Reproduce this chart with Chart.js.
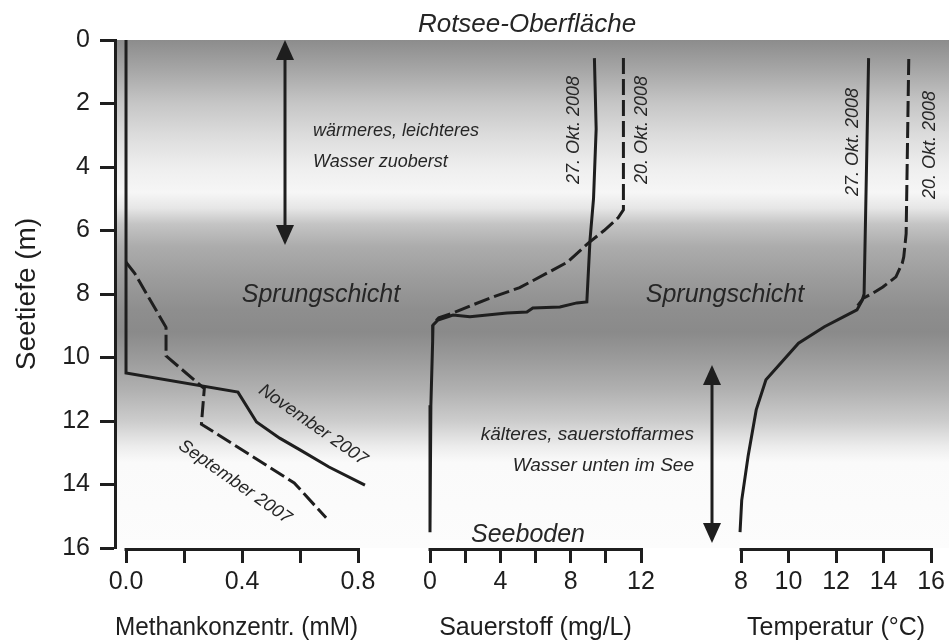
<!DOCTYPE html>
<html>
<head>
<meta charset="utf-8">
<script src="https://cdn.jsdelivr.net/npm/chart.js@4.4.1/dist/chart.umd.min.js"></script>
<style>
  body { margin: 0; background: #fff; }
  #wrap { position: relative; width: 949px; height: 643px; }
  #wrap canvas { position: absolute; left: 0; top: 0; }
</style>
</head>
<body>
<div id="wrap">
  <canvas id="methan" width="949" height="643"></canvas>
  <canvas id="sauerstoff" width="949" height="643"></canvas>
  <canvas id="temperatur" width="949" height="643"></canvas>
</div>
<script>
// Daten (Tiefe in m)
const tiefeTicks = [0, 2, 4, 6, 8, 10, 12, 14, 16];

const methanTicks = [0, 0.2, 0.4, 0.6, 0.8];
const methanBeschriftet = [0, 0.4, 0.8];
const methanNovTiefe = [0, 10.49, 11.09, 12.03, 12.54, 12.91, 13.45, 14.02];
const methanNovWert = [0, 0, 0.386, 0.45, 0.53, 0.60, 0.70, 0.824];
const methanSepTiefe = [7.0, 7.35, 9.05, 9.95, 10.98, 12.1, 13.95, 15.05];
const methanSepWert = [0, 0.03, 0.138, 0.138, 0.27, 0.26, 0.58, 0.69];

const o2Ticks = [0, 2, 4, 6, 8, 10, 12];
const o2Beschriftet = [0, 4, 8, 12];
const o2Okt27Tiefe = [0.57, 2.8, 5.0, 6.3, 8.25, 8.28, 8.41, 8.44, 8.57, 8.6, 8.72, 8.66, 8.82, 8.98, 9.5, 11.5, 15.5];
const o2Okt27Wert = [9.35, 9.45, 9.3, 9.1, 8.92, 8.35, 7.39, 5.85, 5.51, 4.38, 2.27, 1.31, 0.45, 0.17, 0.15, 0.05, 0.0];
const o2Okt20Tiefe = [0.57, 5.35, 5.6, 6.0, 6.4, 7.0, 7.3, 7.8, 8.05, 8.35, 8.6, 8.75, 8.9];
const o2Okt20Wert = [11.0, 11.0, 10.7, 9.9, 9.0, 7.8, 6.8, 5.1, 3.8, 2.4, 1.3, 0.5, 0.25];

const tempTicks = [8, 10, 12, 14, 16];
const tempOkt27Tiefe = [0.57, 8.0, 8.2, 8.5, 8.71, 9.03, 9.55, 10.7, 11.65, 13.1, 14.5, 15.5];
const tempOkt27Wert = [13.37, 13.18, 13.1, 12.88, 12.33, 11.51, 10.42, 9.05, 8.64, 8.3, 8.03, 7.96];
const tempOkt20Tiefe = [0.6, 6.1, 6.83, 7.02, 7.46, 7.78, 7.97, 8.13, 8.4];
const tempOkt20Wert = [15.06, 14.95, 14.85, 14.79, 14.52, 13.97, 13.56, 13.15, 12.88];

// Grauverlauf nach Tiefe (m)
const verlaufTiefe = [0, 1, 2, 3, 4, 4.8, 5.3, 5.8, 6.5, 7.5, 8.5, 9.2, 10, 11, 12, 12.8, 13.3, 16];
const verlaufGrau = [140, 168, 198, 220, 238, 246, 230, 196, 172, 156, 142, 138, 154, 176, 204, 236, 250, 252];

const INK = '#1e1e1e';
const FONT = '"Liberation Sans", Arial, Helvetica, sans-serif';

function punkte(werte, tiefen) {
  return werte.map((v, i) => ({ x: v, y: tiefen[i] }));
}

function linie(werte, tiefen, dash) {
  return {
    data: punkte(werte, tiefen),
    showLine: true,
    borderColor: INK,
    borderWidth: 3,
    borderDash: dash ? [16, 5] : [],
    pointRadius: 0,
    tension: 0,
    clip: false
  };
}

function pfeil(ctx, x, y1, y2) {
  ctx.save();
  ctx.strokeStyle = INK;
  ctx.fillStyle = INK;
  ctx.lineWidth = 3;
  ctx.beginPath();
  ctx.moveTo(x, y1 + 10);
  ctx.lineTo(x, y2 - 10);
  ctx.stroke();
  ctx.beginPath();
  ctx.moveTo(x, y1); ctx.lineTo(x - 9, y1 + 20); ctx.lineTo(x + 9, y1 + 20); ctx.closePath();
  ctx.fill();
  ctx.beginPath();
  ctx.moveTo(x, y2); ctx.lineTo(x - 9, y2 - 20); ctx.lineTo(x + 9, y2 - 20); ctx.closePath();
  ctx.fill();
  ctx.restore();
}

function text(ctx, s, x, y, size, align, winkel) {
  ctx.save();
  ctx.fillStyle = '#262626';
  ctx.font = 'italic ' + size + 'px ' + FONT;
  ctx.textAlign = align || 'center';
  ctx.textBaseline = winkel ? 'middle' : 'alphabetic';
  ctx.translate(x, y);
  if (winkel) ctx.rotate(winkel);
  ctx.fillText(s, 0, 0);
  ctx.restore();
}

// eigene x-Achsenlinie von erstem bis letztem Tick
const achsenLinie = {
  id: 'achsenLinie',
  afterDraw(chart) {
    const sx = chart.scales.x;
    const ctx = chart.ctx;
    const t = sx.ticks;
    const y = chart.chartArea.bottom + 1.5;
    ctx.save();
    ctx.strokeStyle = INK;
    ctx.lineWidth = 3;
    ctx.beginPath();
    ctx.moveTo(sx.getPixelForValue(t[0].value) - 1.5, y);
    ctx.lineTo(sx.getPixelForValue(t[t.length - 1].value) + 1.5, y);
    ctx.stroke();
    ctx.restore();
  }
};

// Hintergrund und Beschriftungen im ersten Diagramm
const see = {
  id: 'see',
  beforeDraw(chart) {
    const ctx = chart.ctx;
    const sy = chart.scales.y;
    const top = sy.getPixelForValue(0), bot = sy.getPixelForValue(16);
    const g = ctx.createLinearGradient(0, top, 0, bot);
    verlaufTiefe.forEach((d, i) => {
      const c = verlaufGrau[i];
      g.addColorStop(d / 16, 'rgb(' + c + ',' + c + ',' + c + ')');
    });
    ctx.save();
    ctx.fillStyle = g;
    ctx.fillRect(chart.chartArea.left, top, chart.width - chart.chartArea.left, bot - top);
    ctx.restore();
  },
  afterDraw(chart) {
    const ctx = chart.ctx;
    const sy = chart.scales.y;
    const Y = d => sy.getPixelForValue(d);
    pfeil(ctx, 285, Y(0), Y(6.46));
    pfeil(ctx, 712, Y(10.24), Y(15.84));
    text(ctx, 'Rotsee-Oberfläche', 527, 32, 26);
    text(ctx, 'wärmeres, leichteres', 313, 136, 18, 'left');
    text(ctx, 'Wasser zuoberst', 313, 167, 18, 'left');
    text(ctx, 'Sprungschicht', 321, 302, 25);
    text(ctx, 'Sprungschicht', 725, 302, 25);
    text(ctx, 'kälteres, sauerstoffarmes', 694, 440, 19, 'right');
    text(ctx, 'Wasser unten im See', 694, 471, 19, 'right');
    text(ctx, 'Seeboden', 528, 542, 25);
    text(ctx, 'November 2007', 313, 425, 18, 'center', 0.61);
    text(ctx, 'September 2007', 235, 482, 18, 'center', 0.61);
  }
};

const datumLabels = {
  id: 'datumLabels',
  afterDraw(chart, args, opts) {
    (opts.items || []).forEach(it => text(chart.ctx, it[0], it[1], it[2], 18, 'center', -Math.PI / 2));
  }
};

function xAchse(min, max, ticks, beschriftet, titel, stellen) {
  return {
    type: 'linear',
    min: min,
    max: max,
    afterBuildTicks: s => { s.ticks = ticks.map(v => ({ value: v })); },
    afterFit: s => { s.height = 95; },
    border: { display: false },
    grid: { drawOnChartArea: false, drawTicks: true, tickLength: 15, tickWidth: 3, tickColor: INK },
    ticks: {
      autoSkip: false, maxRotation: 0, padding: 4, color: INK,
      font: { family: FONT, size: 25 },
      callback: v => beschriftet.includes(v) ? v.toFixed(stellen) : ''
    },
    title: { display: true, text: titel, color: INK, font: { family: FONT, size: 25 }, padding: { top: 0, bottom: 0 } }
  };
}

function yAchse(sichtbar) {
  return {
    type: 'linear',
    reverse: true,
    min: 0,
    max: 16,
    display: sichtbar,
    afterBuildTicks: s => { s.ticks = tiefeTicks.map(v => ({ value: v })); },
    afterFit: s => { s.width = sichtbar ? 115 : 0; },
    border: { display: true, color: INK, width: 3 },
    grid: { drawOnChartArea: false, drawTicks: true, tickLength: 15, tickWidth: 3, tickColor: INK },
    ticks: { color: INK, padding: 10, font: { family: FONT, size: 25 } },
    title: { display: true, text: 'Seetiefe (m)', color: INK, font: { family: FONT, size: 28 }, padding: { top: 10, bottom: 0 } }
  };
}

function diagramm(id, datasets, x, yVisible, padding, plugins, datum) {
  return new Chart(document.getElementById(id), {
    type: 'scatter',
    data: { datasets: datasets },
    options: {
      responsive: false,
      animation: false,
      events: [],
      layout: { padding: padding },
      plugins: { legend: { display: false }, tooltip: { enabled: false }, datumLabels: { items: datum } },
      scales: { x: x, y: yAchse(yVisible) }
    },
    plugins: plugins
  });
}

diagramm('methan',
  [linie(methanNovWert, methanNovTiefe, false), linie(methanSepWert, methanSepTiefe, true)],
  xAchse(-0.038, 0.8, methanTicks, methanBeschriftet, 'Methankonzentr. (mM)', 1),
  true, { left: 0, top: 40, right: 591, bottom: 0 }, [see, achsenLinie], []);

diagramm('sauerstoff',
  [linie(o2Okt27Wert, o2Okt27Tiefe, false), linie(o2Okt20Wert, o2Okt20Tiefe, true)],
  xAchse(0, 12, o2Ticks, o2Beschriftet, 'Sauerstoff (mg/L)', 0),
  false, { left: 430, top: 40, right: 308, bottom: 0 }, [achsenLinie, datumLabels],
  [['27. Okt. 2008', 574, 130], ['20. Okt. 2008', 642, 130]]);

diagramm('temperatur',
  [linie(tempOkt27Wert, tempOkt27Tiefe, false), linie(tempOkt20Wert, tempOkt20Tiefe, true)],
  xAchse(8, 16, tempTicks, tempTicks, 'Temperatur (°C)', 0),
  false, { left: 741, top: 40, right: 13, bottom: 0 }, [achsenLinie, datumLabels],
  [['27. Okt. 2008', 853, 142], ['20. Okt. 2008', 930, 145]]);
</script>
</body>
</html>
